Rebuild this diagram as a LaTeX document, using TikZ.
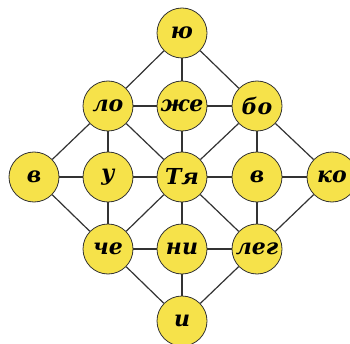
\documentclass[tikz,border=0pt]{standalone}
\usepackage{fontspec}
\newfontfamily\propis{DejaVu Serif}
\definecolor{sylfill}{RGB}{246,226,74}
\tikzset{
  syl/.style={circle,draw=black!80,fill=sylfill,line width=0.8pt,minimum size=50pt,
    inner sep=0pt,font=\propis\fontsize{22}{22}\selectfont\bfseries\itshape},
  link/.style={draw=black!80,line width=1.2pt}
}
\begin{document}
\begin{tikzpicture}[x=1pt,y=1pt]
      \useasboundingbox (0,0) rectangle (350,343);
      \node[syl] (yu)  at (182,310) {ю};
      \node[syl] (lo)  at (108,237) {ло};
      \node[syl] (zhe) at (182,237) {же};
      \node[syl] (bo)  at (257,237) {бо};
      \node[syl] (vl)  at (34,166)  {в};
      \node[syl] (u)   at (108,166) {у};
      \node[syl] (tya) at (182,166) {Тя};
      \node[syl] (vr)  at (257,166) {в};
      \node[syl] (ko)  at (332,166) {ко};
      \node[syl] (che) at (108,94)  {че};
      \node[syl] (ni)  at (182,94)  {ни};
      \node[syl] (leg) at (257,94)  {лег};
      \node[syl] (i)   at (182,22)  {и};
      % rows
      \draw[link] (lo) -- (zhe) -- (bo);
      \draw[link] (vl) -- (u) -- (tya) -- (vr) -- (ko);
      \draw[link] (che) -- (ni) -- (leg);
      % columns
      \draw[link] (yu) -- (zhe) -- (tya) -- (ni) -- (i);
      \draw[link] (lo) -- (u) -- (che);
      \draw[link] (bo) -- (vr) -- (leg);
      % diagonals
      \draw[link] (vl) -- (lo) -- (yu) -- (bo) -- (ko);
      \draw[link] (vl) -- (che) -- (i) -- (leg) -- (ko);
      \draw[link] (lo) -- (tya) -- (leg);
      \draw[link] (bo) -- (tya) -- (che);
    \end{tikzpicture}
\end{document}
